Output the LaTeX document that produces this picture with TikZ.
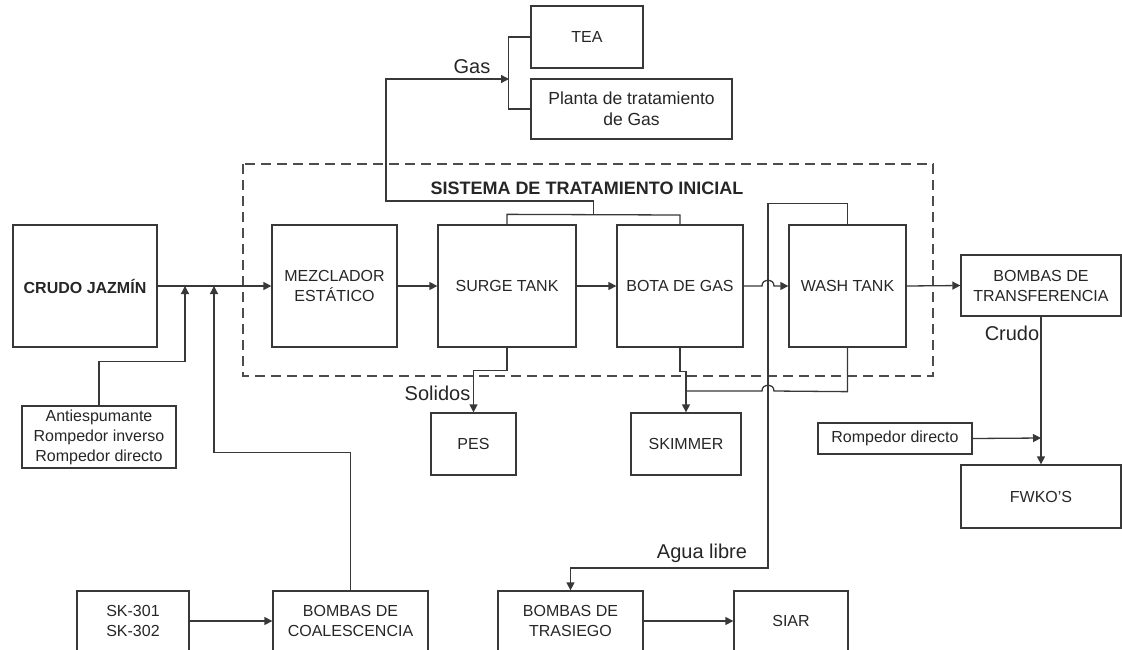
\documentclass[tikz,border=0pt]{standalone}
\usepackage{fontspec}
\setmainfont{Liberation Sans}
\usetikzlibrary{arrows.meta}

\begin{document}
\begin{tikzpicture}[x=1pt,y=-1pt,
  line/.style={line width=1.3pt, draw=black!78},
  box/.style={line, rectangle, inner sep=0pt, align=center,
    font=\fontsize{16}{20}\selectfont, text=black!85},
  flow/.style={line, -{Triangle[length=8pt,width=8pt]}},
  lbl/.style={font=\fontsize{20}{24}\selectfont, text=black!85, inner sep=0pt},
  frame/.style={line width=1.3pt, draw=black!70, dash pattern=on 10pt off 6pt},
]
\useasboundingbox (0,0) rectangle (1122,649);
\clip (0,0) rectangle (1122,649);

% boundary of the initial treatment system
\draw[frame] (243,164) rectangle (933,376);
\node[font=\bfseries\fontsize{18}{22}\selectfont, text=black!85] (title) at (587,188)
  {SISTEMA DE TRATAMIENTO INICIAL};

% main process units
\node[box, minimum width=144, minimum height=122, font=\bfseries\fontsize{16}{20}\selectfont] (crudo) at (85,286) {CRUDO JAZMÍN};
\node[box, minimum width=125, minimum height=122] (mezc) at (334.5,286) {MEZCLADOR\\ESTÁTICO};
\node[box, minimum width=138, minimum height=122] (surge) at (507,286) {SURGE TANK};
\node[box, minimum width=126, minimum height=122] (bota) at (680,286) {BOTA DE GAS};
\node[box, minimum width=117, minimum height=122] (wash) at (847.5,286) {WASH TANK};
\node[box, minimum width=160, minimum height=61] (transf) at (1041,285.5) {BOMBAS DE\\TRANSFERENCIA};

% gas destinations
\node[box, minimum width=112, minimum height=62] (tea) at (587,37) {TEA};
\node[box, minimum width=201, minimum height=60, font=\fontsize{17.5}{21}\selectfont] (planta) at (631.5,109) {Planta de tratamiento\\de Gas};

% chemicals, solids, water and crude outlets
\node[box, minimum width=154, minimum height=62] (anti) at (99,437) {Antiespumante\\Rompedor inverso\\Rompedor directo};
\node[box, minimum width=85, minimum height=62] (pes) at (473.5,444) {PES};
\node[box, minimum width=110, minimum height=62] (skim) at (686,444) {SKIMMER};
\node[box, minimum width=154, minimum height=31] (rd) at (895,438.5) {Rompedor directo};
\node[box, minimum width=160, minimum height=63] (fwko) at (1041,496.5) {FWKO'S};

% pumping units at the bottom
\node[box, minimum width=112, minimum height=60] (sk) at (133,621) {SK-301\\SK-302};
\node[box, minimum width=155, minimum height=60] (coal) at (350.5,621) {BOMBAS DE\\COALESCENCIA};
\node[box, minimum width=145, minimum height=60] (tras) at (570.5,621) {BOMBAS DE\\TRASIEGO};
\node[box, minimum width=114, minimum height=60] (siar) at (791,621) {SIAR};

% junctions on the lines
\coordinate (j1) at (185,286);
\coordinate (j2) at (214,286);
\coordinate (gm) at (593.5,215);
\coordinate (gj) at (509,79);
\coordinate (j3) at (686,391);
\coordinate (jr) at (1041,438);

% main crude line
\draw[flow] (crudo.east) -- (mezc.west);
\draw[flow] (mezc.east) -- (surge.west);
\draw[flow] (surge.east) -- (bota.west);
\draw[flow] (bota.east) -- (762,286) .. controls (762,278) and (774,278) .. (774,286) -- (wash.west);
\draw[flow] (wash.east) -- (transf.west);
\draw[flow] (transf.south) -- (fwko.north);
\draw[flow] (rd.east) -- (jr);

% chemical injection and coalescence return
\draw[flow] (anti.north) -- ++(0,-44) -| (j1);
\draw[flow] (coal.north) -- ++(0,-138) -| (j2);
\draw[flow] (sk.east) -- (coal.west);

% gas collection
\draw[line] (surge.north) -- ++(0,-10) -- (bota.north |- gm) -- (bota.north);
\draw[flow] (gm) -- ++(0,-14) -| (386,79) -- (gj);
\draw[line] (tea.west) -- ++(-22,0) |- (planta.west);

% solids and skimmed oil
\draw[flow] (surge.south) -- ++(0,23) -| (pes.north);
\draw[flow] (bota.south) -- ++(0,24) -| (skim.north);
\draw[line] (wash.south) -- ++(0,44) -- (774,391) .. controls (774,383) and (762,383) .. (762,391) -- (j3);

% free water
\draw[flow] (wash.north) -- ++(0,-21) -| (768,568) -| (tras.north);
\draw[flow] (tras.east) -- (siar.west);

% stream labels
\node[lbl] (lgas) at (472,67) {Gas};
\node[lbl] (lsol) at (437.5,393) {Solidos};
\node[lbl] (lcru) at (1012,333) {Crudo};
\node[lbl] (lagua) at (702,553) {Agua libre};
\end{tikzpicture}
\end{document}
